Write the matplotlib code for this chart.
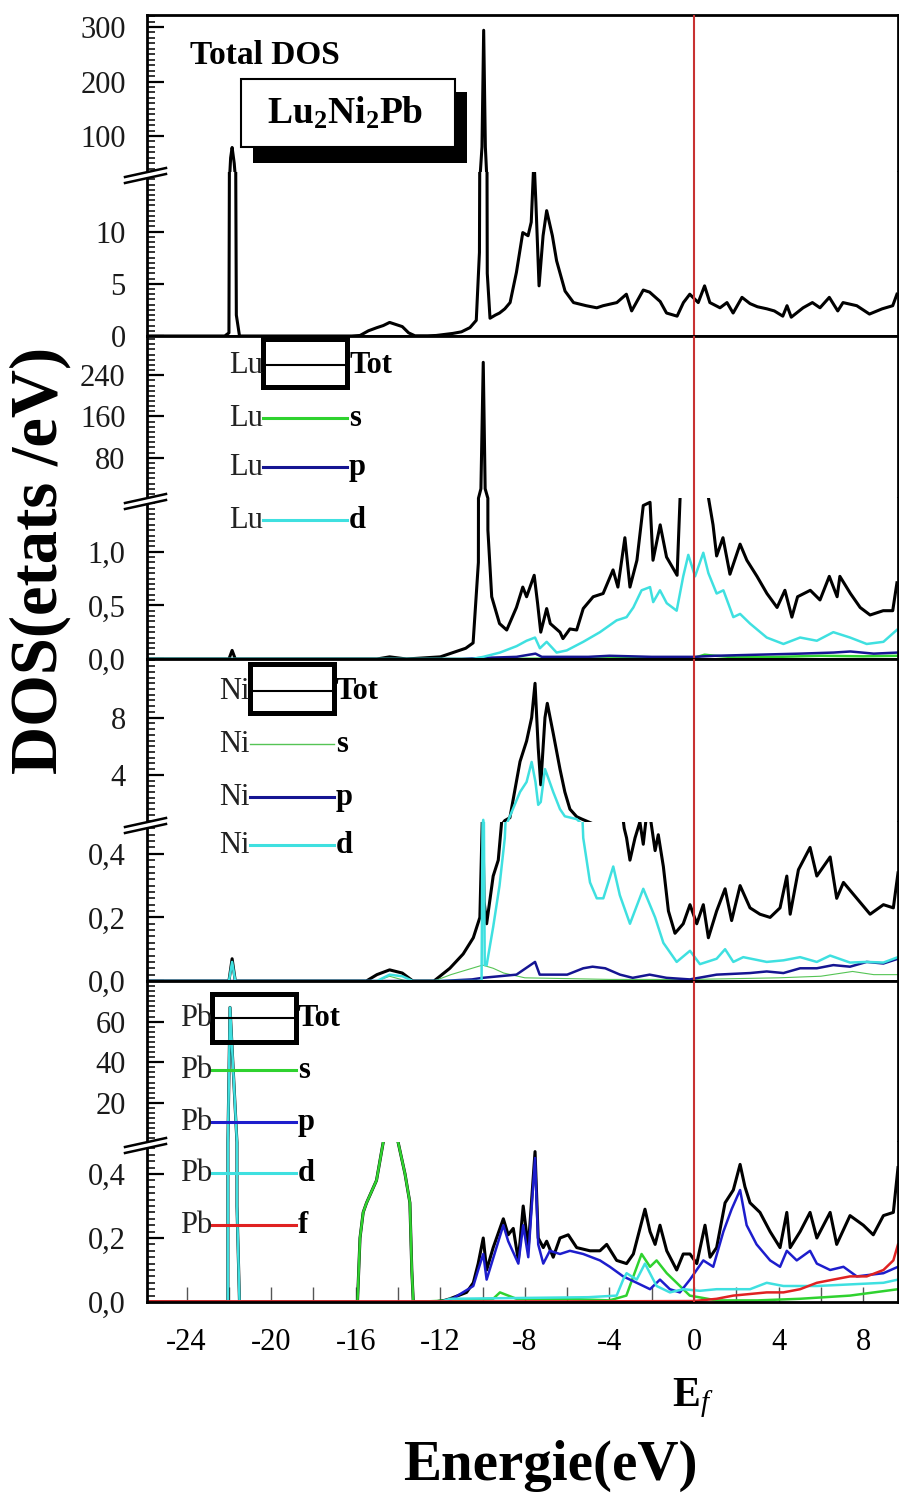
import numpy as np
import matplotlib
matplotlib.use("Agg")
import matplotlib.pyplot as plt
from matplotlib.lines import Line2D
from matplotlib.patches import Rectangle, Polygon
from matplotlib.ticker import FixedLocator, FixedFormatter, MultipleLocator

plt.rcParams['font.family'] = ['Liberation Serif', 'DejaVu Serif']
plt.rcParams['mathtext.fontset'] = 'custom'
plt.rcParams['mathtext.rm'] = 'Liberation Serif'
plt.rcParams['mathtext.bf'] = 'Liberation Serif:bold'
plt.rcParams['mathtext.it'] = 'Liberation Serif:italic'
plt.rcParams['axes.unicode_minus'] = False

# ---- data (energy in eV, DOS in states/eV) ----

# Total DOS
tot_E = [-25.9, -22.2, -22.0, -21.92, -21.85, -21.75, -21.65, -21.5,
         -16.2, -15.8, -15.4, -15.0, -14.7, -14.4, -14.1, -13.8, -13.5, -13.2,
         -12.6, -12.2, -11.8, -11.4, -11.0, -10.6, -10.3, -10.15, -10.03, -9.95, -9.87, -9.78, -9.65,
         -9.4, -9.2, -8.95, -8.7, -8.4, -8.1, -7.85, -7.7, -7.57, -7.48, -7.33, -7.14, -6.97, -6.7, -6.5, -6.1, -5.7,
         -5.1, -4.6, -4.3, -3.65, -3.2, -2.95, -2.4, -2.1, -1.6, -1.3, -0.8, -0.5, -0.2,
         0.2, 0.5, 0.75, 1.23, 1.56, 1.85, 2.27, 2.65, 3.0, 3.45, 3.8, 4.2, 4.4, 4.6, 5.16, 5.6, 5.96,
         6.4, 6.8, 7.05, 7.7, 8.3, 8.9, 9.4, 9.6]
tot_dos = [0, 0, 0.3, 60, 79, 50, 2, 0,
           0, 0.05, 0.5, 0.8, 1.0, 1.3, 1.1, 0.9, 0.3, 0.02,
           0.02, 0.05, 0.15, 0.25, 0.4, 0.8, 1.5, 8, 80, 294, 80, 6, 1.7,
           2.0, 2.2, 2.6, 3.2, 6.1, 9.9, 9.6, 10.9, 17, 12.8, 4.8, 9.6, 12.0, 9.6, 7.2, 4.3, 3.2,
           2.9, 2.7, 2.9, 3.2, 4.0, 2.4, 4.4, 4.2, 3.3, 2.2, 1.9, 3.2, 4.0,
           3.2, 4.8, 3.2, 2.7, 3.2, 2.2, 3.7, 3.1, 2.8, 2.6, 2.4, 1.9, 2.9, 1.8, 2.7, 3.2, 2.7,
           3.7, 2.4, 3.2, 2.9, 2.1, 2.6, 2.9, 4.0]

# Lu partial DOS
lu_tot_E = [-25.9, -22.0, -21.85, -21.7, -15.0, -14.4, -13.6, -12.0, -11.55, -10.8, -10.45, -10.2,
            -10.08, -9.97, -9.88, -9.75, -9.57, -9.2, -8.86, -8.4, -8.1, -7.92, -7.56, -7.4, -7.25,
            -6.97, -6.8, -6.34, -6.2, -5.87, -5.55, -5.24, -4.77, -4.3, -3.83, -3.6, -3.27, -3.03,
            -2.7, -2.4, -2.08, -1.94, -1.6, -1.3, -0.8, -0.62, -0.4, 0.2, 0.6, 0.9, 1.07, 1.37, 1.7,
            2.18, 2.5, 2.98, 3.45, 3.93, 4.3, 4.63, 4.9, 5.5, 5.96, 6.4, 6.77, 6.9, 7.4, 7.86, 8.33,
            8.95, 9.4, 9.6]
lu_tot = [0, 0, 0.08, 0, 0, 0.02, 0, 0.02, 0.05, 0.1, 0.15, 0.9,
          20, 265, 20, 1.2, 0.58, 0.33, 0.27, 0.48, 0.67, 0.58, 0.78, 0.52, 0.25,
          0.47, 0.33, 0.25, 0.19, 0.28, 0.27, 0.47, 0.58, 0.61, 0.83, 0.67, 1.13, 0.67,
          0.92, 1.43, 1.46, 0.92, 1.25, 0.95, 0.78, 1.7, 1.8, 1.8, 1.6, 1.25, 0.96, 1.13, 0.79,
          1.07, 0.92, 0.77, 0.61, 0.48, 0.64, 0.39, 0.58, 0.64, 0.55, 0.77, 0.58, 0.77, 0.61, 0.48, 0.41,
          0.45, 0.45, 0.71]
lu_d_E = [-25.9, -10.5, -9.97, -9.18, -8.39, -7.92, -7.52, -7.29, -6.97, -6.5, -6.02, -5.24, -4.45,
          -3.66, -3.19, -2.87, -2.48, -2.08, -1.93, -1.61, -1.29, -0.82, -0.51, -0.27, 0.05, 0.44,
          0.68, 1.07, 1.39, 1.86, 2.18, 2.65, 3.44, 4.23, 5.02, 5.81, 6.59, 7.38, 8.17, 8.96, 9.59]
lu_d = [0, 0, 0.02, 0.06, 0.12, 0.17, 0.2, 0.1, 0.16, 0.06, 0.08, 0.16, 0.25,
        0.36, 0.39, 0.48, 0.64, 0.67, 0.53, 0.64, 0.52, 0.45, 0.77, 0.97, 0.77, 0.99,
        0.8, 0.61, 0.64, 0.39, 0.42, 0.33, 0.2, 0.14, 0.2, 0.17, 0.25, 0.2, 0.14, 0.16, 0.27]
lu_p_E = [-25.9, -11.0, -10.0, -8.4, -7.5, -7.2, -5.0, -4.0, -2.0, 0.0, 1.0, 3.0, 5.0, 6.6, 7.4, 8.5, 9.65]
lu_p = [0, 0, 0.01, 0.02, 0.05, 0.02, 0.02, 0.03, 0.02, 0.02, 0.03, 0.04, 0.05, 0.06, 0.07, 0.05, 0.06]
lu_s_E = [-25.9, -10.0, -5.0, 0.0, 0.5, 1.0, 2.0, 4.0, 6.0, 8.0, 9.65]
lu_s = [0, 0, 0.005, 0.01, 0.04, 0.03, 0.015, 0.02, 0.03, 0.025, 0.03]

# Ni partial DOS
ni_tot_E = [-25.9, -22.0, -21.85, -21.7, -15.5, -15.0, -14.4, -13.8, -13.3, -12.3, -11.55, -10.92,
            -10.44, -10.13, -10.0, -9.93, -9.81, -9.5, -9.26, -9.1, -8.95, -8.71, -8.23, -7.92, -7.68,
            -7.52, -7.37, -7.25, -7.05, -6.94, -6.66, -6.34, -6.11, -5.87, -5.55, -5.3, -4.9, -4.3,
            -3.8, -3.43, -3.3, -3.19, -3.03, -2.79, -2.56, -2.4, -2.2, -2.08, -1.84, -1.69, -1.45,
            -1.21, -0.9, -0.51, -0.19, 0.13, 0.44, 0.68, 1.07, 1.47, 1.78, 2.18, 2.65, 3.12, 3.6,
            4.07, 4.39, 4.55, 4.94, 5.49, 5.81, 6.44, 6.75, 7.07, 7.7, 8.33, 8.96, 9.43, 9.65]
ni_tot = [0, 0, 0.07, 0, 0, 0.02, 0.035, 0.025, 0, 0, 0.04, 0.085,
          0.136, 0.2, 0.55, 0.25, 0.18, 0.33, 0.38, 0.5, 0.8, 1.0, 4.93, 6.36, 8.0,
          10.4, 5.9, 3.3, 8.0, 9.0, 6.9, 4.4, 2.8, 1.6, 1.07, 0.9, 0.65, 0.6,
          0.62, 0.55, 0.48, 0.45, 0.38, 0.45, 0.5, 0.43, 0.55, 0.52, 0.41, 0.46, 0.36,
          0.22, 0.15, 0.18, 0.24, 0.18, 0.24, 0.136, 0.22, 0.29, 0.19, 0.3, 0.23, 0.21, 0.2,
          0.23, 0.33, 0.21, 0.35, 0.42, 0.33, 0.39, 0.26, 0.31, 0.26, 0.21, 0.24, 0.23, 0.34]
ni_d_E = [-25.9, -22.0, -21.85, -21.7, -15.0, -14.4, -13.8, -13.3, -10.05, -9.97, -9.9, -9.81,
          -9.5, -9.2, -8.95, -8.85, -8.71, -8.23, -7.92, -7.68, -7.5, -7.37, -7.25, -7.05, -6.9,
          -6.66, -6.34, -6.11, -5.55, -5.3, -5.24, -4.92, -4.6, -4.29, -3.82, -3.51, -3.03, -2.4,
          -1.84, -1.45, -0.82, -0.19, 0.28, 1.07, 1.47, 1.86, 2.33, 3.44, 4.23, 5.02, 5.81, 6.44,
          7.38, 8.17, 8.96, 9.65]
ni_d = [0, 0, 0.06, 0, 0, 0.02, 0.015, 0, 0, 0.85, 0.05, 0.05,
        0.17, 0.3, 0.45, 0.6, 1.1, 2.8, 3.5, 4.9, 3.5, 1.9, 2.1, 4.4, 3.8,
        2.8, 1.6, 1.1, 0.9, 0.55, 0.45, 0.31, 0.26, 0.26, 0.36, 0.27, 0.18, 0.29,
        0.2, 0.12, 0.06, 0.095, 0.053, 0.07, 0.1, 0.06, 0.075, 0.06, 0.065, 0.075, 0.06, 0.08,
        0.058, 0.06, 0.058, 0.075]
ni_p_E = [-25.9, -12.0, -10.5, -10.0, -8.4, -7.52, -7.3, -6.0, -5.24, -4.8, -4.2, -3.5, -2.9, -2.1,
          -1.3, -0.2, 1.07, 2.65, 3.44, 4.23, 5.02, 5.81, 6.59, 7.38, 8.17, 8.96, 9.65]
ni_p = [0, 0, 0.005, 0.01, 0.02, 0.06, 0.02, 0.02, 0.04, 0.045, 0.04, 0.02, 0.01, 0.02,
        0.01, 0.005, 0.02, 0.025, 0.03, 0.025, 0.04, 0.04, 0.05, 0.045, 0.06, 0.055, 0.07]
ni_s_E = [-25.9, -15.0, -14.4, -13.6, -12.3, -11.5, -10.5, -10.0, -9.5, -9.0, -8.0, -4.0, 0.0, 4.0,
          6.0, 7.5, 8.5, 9.65]
ni_s = [0, 0, 0.015, 0, 0, 0.02, 0.04, 0.05, 0.04, 0.025, 0.01, 0.005, 0.005, 0.01,
        0.015, 0.03, 0.02, 0.02]

# Pb partial DOS
pb_tot_E = [-25.9, -22.05, -21.95, -21.62, -21.5, -15.92, -15.8, -15.65, -15.49, -15.02, -14.7,
            -14.35, -14.0, -13.67, -13.44, -13.35, -13.28, -12.3, -11.8, -11.55, -10.76, -10.44,
            -10.21, -9.97, -9.81, -9.5, -9.02, -8.79, -8.55, -8.31, -8.08, -7.84, -7.52, -7.37,
            -7.13, -6.97, -6.66, -6.34, -5.95, -5.55, -4.92, -4.45, -4.13, -3.66, -3.19, -2.87,
            -2.32, -2.08, -1.84, -1.61, -1.29, -0.82, -0.51, -0.19, 0.13, 0.52, 0.76, 1.07, 1.47,
            1.86, 2.18, 2.41, 2.65, 3.12, 3.6, 4.07, 4.39, 4.55, 5.02, 5.49, 5.81, 6.44, 6.75,
            7.38, 8.01, 8.48, 8.96, 9.43, 9.65]
pb_tot = [0, 0, 67, 0.3, 0, 0, 0.2, 0.28, 0.31, 0.38, 0.5,
          0.6, 0.5, 0.4, 0.31, 0.1, 0, 0, 0.005, 0.01, 0.03, 0.06,
          0.12, 0.2, 0.1, 0.17, 0.26, 0.21, 0.23, 0.13, 0.3, 0.17, 0.47, 0.2,
          0.17, 0.19, 0.14, 0.2, 0.21, 0.17, 0.16, 0.16, 0.18, 0.13, 0.12, 0.15,
          0.29, 0.22, 0.18, 0.24, 0.16, 0.1, 0.15, 0.15, 0.12, 0.24, 0.14, 0.17, 0.31,
          0.35, 0.43, 0.36, 0.31, 0.28, 0.22, 0.17, 0.28, 0.17, 0.22, 0.28, 0.2, 0.28, 0.18,
          0.27, 0.24, 0.21, 0.27, 0.28, 0.42]
pb_s_E = [-25.9, -15.92, -15.8, -15.65, -15.49, -15.02, -14.7, -14.35, -14.0, -13.67, -13.44,
          -13.35, -13.28, -11.55, -9.5, -9.18, -8.4, -6.0, -4.0, -3.2, -2.87, -2.48, -2.08, -1.77,
          -1.29, -0.82, -0.2, 1.07, 3.0, 5.0, 7.38, 9.65]
pb_s = [0, 0, 0.2, 0.28, 0.31, 0.38, 0.5, 0.6, 0.5, 0.4, 0.31,
        0.1, 0, 0.005, 0.01, 0.03, 0.01, 0.01, 0.005, 0.02, 0.08, 0.15, 0.11, 0.13,
        0.09, 0.06, 0.02, 0.005, 0.005, 0.01, 0.02, 0.04]
pb_p_E = [-25.9, -12.3, -11.55, -10.44, -10.21, -9.97, -9.81, -9.02, -8.79, -8.31, -8.08, -7.84,
          -7.52, -7.37, -7.13, -6.82, -6.34, -5.87, -5.24, -4.45, -3.98, -3.35, -2.71, -2.08,
          -1.61, -1.14, -0.67, -0.19, 0.44, 0.91, 1.39, 1.78, 2.18, 2.49, 2.96, 3.6, 4.07, 4.39,
          4.86, 5.49, 5.81, 6.44, 7.07, 7.7, 8.33, 8.96, 9.65]
pb_p = [0, 0, 0.005, 0.05, 0.1, 0.15, 0.07, 0.24, 0.19, 0.12, 0.24, 0.14,
        0.45, 0.18, 0.12, 0.16, 0.15, 0.16, 0.15, 0.13, 0.11, 0.08, 0.06, 0.04,
        0.07, 0.04, 0.03, 0.07, 0.13, 0.11, 0.22, 0.29, 0.35, 0.24, 0.18, 0.13, 0.11, 0.16,
        0.13, 0.16, 0.12, 0.1, 0.11, 0.08, 0.085, 0.09, 0.11]
pb_d_E = [-25.9, -22.05, -21.95, -21.62, -21.5, -12.0, -11.55, -5.0, -3.66, -3.35, -3.19, -2.71,
          -2.32, -1.77, -1.14, -0.51, 0.28, 1.07, 2.65, 3.44, 4.23, 5.81, 7.38, 8.96, 9.65]
pb_d = [0, 0, 67, 0.3, 0, 0, 0.01, 0.015, 0.02, 0.07, 0.09, 0.07,
        0.12, 0.05, 0.03, 0.04, 0.035, 0.04, 0.04, 0.06, 0.05, 0.05, 0.055, 0.06, 0.07]
pb_f_E = [-25.9, -5.0, 0.0, 1.07, 1.86, 2.65, 3.44, 4.23, 5.02, 5.81, 6.59, 7.38, 8.17, 8.96, 9.43, 9.65]
pb_f = [0.002, 0.002, 0.003, 0.01, 0.02, 0.025, 0.03, 0.03, 0.04, 0.06, 0.07, 0.08, 0.08, 0.1, 0.13, 0.18]

x_ticks = [-24, -20, -16, -12, -8, -4, 0, 4, 8]
x_minor = [-22, -18, -14, -10, -6, -2, 2, 6]

# colours
BLACK = 'black'
GREEN = '#2fd22f'
NAVY = '#151592'
BLUE = '#1d1dcc'
CYAN = '#3fe0e0'
RED = '#e02222'
EF_RED = '#c83232'

# ---- figure layout in pixels ----
W, H = 899, 1499
fig = plt.figure(figsize=(W / 100, H / 100), dpi=100)


def fx(x):
    return x / W


def fy(y):
    return 1 - y / H


X_LEFT, X_RIGHT = 146.5, 898
XMIN, XMAX = -25.9, 9.65


def add_ax(y_top, y_bot):
    return fig.add_axes([fx(X_LEFT), fy(y_bot), fx(X_RIGHT) - fx(X_LEFT), (y_bot - y_top) / H])


def above_break(v, lo):
    # keep only the parts of a curve that reach into the upper (broken) range,
    # so the thick line does not bleed along the bottom edge of the upper axes
    v = np.asarray(v, float)
    keep = v >= lo
    near = keep.copy()
    near[1:] |= keep[:-1]
    near[:-1] |= keep[1:]
    return np.where(near, v, np.nan)


def style(ax, ylim, ticks, labels, minor, part, bottom=False):
    ax.set_xlim(XMIN, XMAX)
    ax.set_ylim(*ylim)
    ax.yaxis.set_major_locator(FixedLocator(ticks))
    ax.yaxis.set_major_formatter(FixedFormatter(labels))
    ax.yaxis.set_minor_locator(MultipleLocator(minor))
    ax.tick_params(axis='y', which='major', direction='in', length=12, width=1.6,
                   labelsize=22, pad=15, labelcolor='#1a1a1a')
    ax.tick_params(axis='y', which='minor', direction='in', length=6, width=1.1)
    for s in ax.spines.values():
        s.set_linewidth(2)
    if part == 'up':
        ax.spines['bottom'].set_visible(False)
    else:
        ax.spines['top'].set_visible(False)
    if bottom:
        ax.xaxis.set_major_locator(FixedLocator(x_ticks))
        ax.xaxis.set_major_formatter(FixedFormatter([str(v) for v in x_ticks]))
        ax.xaxis.set_minor_locator(FixedLocator(x_minor))
        ax.tick_params(axis='x', which='both', direction='in', length=11, width=1.0,
                       color='#555555', labelsize=22, pad=19)
    else:
        ax.tick_params(axis='x', which='both', bottom=False, labelbottom=False)
    ax.axvline(0, color=EF_RED, lw=1.5, zorder=6)


panels = [
    dict(top=15, brk=172, bot=336,
         curves=[(tot_E, tot_dos, BLACK, 2.2)],
         up=(34, 322), up_ticks=[100, 200, 300], up_labels=['100', '200', '300'], up_minor=10,
         lo=(0, 15.7), lo_ticks=[0, 5, 10], lo_labels=['0', '5', '10'], lo_minor=0.5),
    dict(top=336, brk=498, bot=659,
         curves=[(lu_tot_E, lu_tot, BLACK, 2.2), (lu_s_E, lu_s, GREEN, 1.8),
                 (lu_p_E, lu_p, NAVY, 1.8), (lu_d_E, lu_d, CYAN, 1.8)],
         up=(2, 316), up_ticks=[80, 160, 240], up_labels=['80', '160', '240'], up_minor=10,
         lo=(0, 1.5), lo_ticks=[0, 0.5, 1.0], lo_labels=['0,0', '0,5', '1,0'], lo_minor=0.05),
    dict(top=659, brk=822, bot=981,
         curves=[(ni_tot_E, ni_tot, BLACK, 2.2), (ni_s_E, ni_s, '#55c455', 0.8),
                 (ni_p_E, ni_p, NAVY, 1.8), (ni_d_E, ni_d, CYAN, 1.8)],
         up=(0.7, 12.1), up_ticks=[4, 8], up_labels=['4', '8'], up_minor=0.4,
         lo=(0, 0.5), lo_ticks=[0, 0.2, 0.4], lo_labels=['0,0', '0,2', '0,4'], lo_minor=0.02),
    dict(top=981, brk=1142, bot=1302,
         curves=[(pb_tot_E, pb_tot, BLACK, 2.2), (pb_s_E, pb_s, GREEN, 1.8),
                 (pb_p_E, pb_p, BLUE, 1.8), (pb_d_E, pb_d, CYAN, 1.8), (pb_f_E, pb_f, RED, 1.8)],
         up=(0.7, 80), up_ticks=[20, 40, 60], up_labels=['20', '40', '60'], up_minor=2.5,
         lo=(0, 0.5), lo_ticks=[0, 0.2, 0.4], lo_labels=['0,0', '0,2', '0,4'], lo_minor=0.02),
]

for i, p in enumerate(panels):
    ax_up = add_ax(p['top'], p['brk'])
    ax_lo = add_ax(p['brk'], p['bot'])
    for E, v, c, lw in p['curves']:
        ax_up.plot(E, above_break(v, p['up'][0]), color=c, lw=lw)
        ax_lo.plot(E, v, color=c, lw=lw)
    style(ax_up, p['up'], p['up_ticks'], p['up_labels'], p['up_minor'], 'up')
    style(ax_lo, p['lo'], p['lo_ticks'], p['lo_labels'], p['lo_minor'], 'lo',
          bottom=(i == len(panels) - 1))

    # axis break mark on the left spine
    yb = p['brk']
    fig.add_artist(Polygon([(fx(125), fy(yb + 5)), (fx(166), fy(yb - 4)),
                            (fx(166), fy(yb + 2)), (fx(125), fy(yb + 11))],
                           closed=True, fc='white', ec='none', transform=fig.transFigure, zorder=5))
    for dy in (0, 6):
        fig.add_artist(Line2D([fx(125), fx(166)], [fy(yb + 5 + dy), fy(yb - 4 + dy)],
                              color='black', lw=1.8, transform=fig.transFigure, zorder=6))


# ---- legends drawn in pixel positions ----
def legend(name, name_right, box, rows, labels, colors, lws):
    x0, y0, x1, y1 = box
    fig.add_artist(Rectangle((fx(x0), fy(y1)), fx(x1) - fx(x0), (y1 - y0) / H, fill=False,
                             lw=3.6, ec='black', transform=fig.transFigure, zorder=7))
    for y, lab, c, lw in zip(rows, labels, colors, lws):
        fig.add_artist(Line2D([fx(x0), fx(x1)], [fy(y), fy(y)], color=c, lw=lw,
                              transform=fig.transFigure, zorder=7))
        fig.text(fx(name_right), fy(y + 8), name, ha='right', va='baseline', fontsize=22,
                 color='#222222', zorder=8)
        fig.text(fx(x1 + 2), fy(y + 8), lab, ha='left', va='baseline', fontsize=22,
                 fontweight='bold', zorder=8)


legend('Lu', 263, (263, 339, 347, 387), [365, 418, 467, 520], ['Tot', 's', 'p', 'd'],
       [BLACK, GREEN, NAVY, CYAN], [1.5, 2.2, 2.2, 2.2])
legend('Ni', 250, (250, 664, 334, 713), [691, 744, 797, 845], ['Tot', 's', 'p', 'd'],
       [BLACK, '#55c455', NAVY, CYAN], [1.5, 1.0, 2.2, 2.2])
legend('Pb', 212, (212, 994, 296, 1042), [1018, 1070, 1122, 1173, 1225],
       ['Tot', 's', 'p', 'd', 'f'], [BLACK, GREEN, BLUE, CYAN, RED], [1.5, 2.2, 2.2, 2.2, 2.2])

# title block of the total DOS panel
fig.text(fx(190), fy(64), 'Total DOS', ha='left', va='baseline', fontsize=24, fontweight='bold')
fig.add_artist(Rectangle((fx(253), fy(163)), fx(467) - fx(253), (163 - 92) / H, fc='black',
                         ec='none', transform=fig.transFigure, zorder=7))
fig.add_artist(Rectangle((fx(241), fy(147)), fx(455) - fx(241), (147 - 79) / H, fc='white',
                         ec='black', lw=1.5, transform=fig.transFigure, zorder=8))
fig.text(fx(345), fy(113), r'$\mathbf{Lu_2Ni_2Pb}$', ha='center', va='center', fontsize=27,
         zorder=9)

# axis titles
fig.text(fx(40), fy(560), 'DOS(etats /eV)', rotation=90, ha='center', va='center',
         fontsize=48, fontweight='bold')
fig.text(fx(550), fy(1466), 'Energie(eV)', ha='center', va='center', fontsize=41,
         fontweight='bold')
fig.text(fx(693), fy(1398), r'$\mathbf{E}_{\mathit{f}}$', ha='center', va='center', fontsize=30)

fig.savefig('out.png', dpi=100)
